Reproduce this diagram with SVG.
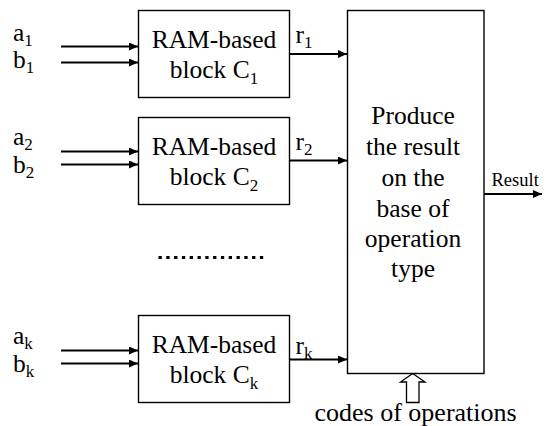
<svg xmlns="http://www.w3.org/2000/svg" width="549" height="426" viewBox="0 0 549 426">
  <style>
    text { font-family: "Liberation Serif", "Times New Roman", serif; fill: #000; }
    .lbl { font-size: 25.5px; }
    .mid { text-anchor: middle; }
    .sub { font-size: 17px; }
    .small { font-size: 18.5px; }
    .box { fill: #fff; stroke: #000; stroke-width: 1.4; }
    .wire { fill: none; stroke: #000; stroke-width: 2.2; marker-end: url(#head); }
  </style>
  <defs>
    <marker id="head" markerUnits="userSpaceOnUse" markerWidth="10" markerHeight="8" refX="9" refY="4" orient="auto">
      <path d="M0,0 L9,4 L0,8 Z" fill="#000"/>
    </marker>
  </defs>

  <rect width="549" height="426" fill="#fff"/>

  <!-- connectors -->
  <g id="connectors">
    <line class="wire" x1="61" y1="46.5" x2="138" y2="46.5"/>
    <line class="wire" x1="61" y1="62.5" x2="138" y2="62.5"/>
    <line class="wire" x1="61" y1="151.5" x2="138" y2="151.5"/>
    <line class="wire" x1="61" y1="164.5" x2="138" y2="164.5"/>
    <line class="wire" x1="61" y1="350.5" x2="138" y2="350.5"/>
    <line class="wire" x1="61" y1="363.5" x2="138" y2="363.5"/>
    <line class="wire" x1="289" y1="54" x2="347" y2="54"/>
    <line class="wire" x1="289" y1="160.5" x2="347" y2="160.5"/>
    <line class="wire" x1="289" y1="359.5" x2="347" y2="359.5"/>
    <line class="wire" x1="484" y1="194" x2="542" y2="194"/>
    <!-- hollow arrow for operation codes -->
    <path d="M412.7,373.5 L425,382 L419,382 L419,402.5 L406.5,402.5 L406.5,382 L400.5,382 Z" fill="#fff" stroke="#000" stroke-width="1.3"/>
    <!-- ellipsis between block rows -->
    <line x1="158.5" y1="257.5" x2="266" y2="257.5" stroke="#000" stroke-width="3" stroke-dasharray="3.3 4.5"/>
  </g>

  <!-- input labels -->
  <g id="inputs">
    <text class="lbl" x="13" y="40.5">a<tspan class="sub" dy="5">1</tspan></text>
    <text class="lbl" x="13" y="68">b<tspan class="sub" dy="5">1</tspan></text>
    <text class="lbl" x="13" y="145">a<tspan class="sub" dy="5">2</tspan></text>
    <text class="lbl" x="13" y="172.5">b<tspan class="sub" dy="5">2</tspan></text>
    <text class="lbl" x="13" y="344">a<tspan class="sub" dy="5">k</tspan></text>
    <text class="lbl" x="13" y="371.5">b<tspan class="sub" dy="5">k</tspan></text>
  </g>

  <g id="block1">
    <rect class="box" x="138.5" y="10.5" width="151" height="87"/>
    <text class="lbl mid" x="214" y="48">RAM-based</text>
    <text class="lbl mid" x="214" y="77.5">block C<tspan class="sub" dy="6">1</tspan></text>
  </g>

  <g id="block2">
    <rect class="box" x="138.5" y="117.5" width="151" height="87"/>
    <text class="lbl mid" x="214" y="155">RAM-based</text>
    <text class="lbl mid" x="214" y="184.5">block C<tspan class="sub" dy="6">2</tspan></text>
  </g>

  <g id="blockk">
    <rect class="box" x="138.5" y="315.5" width="151" height="87"/>
    <text class="lbl mid" x="214" y="353">RAM-based</text>
    <text class="lbl mid" x="214" y="382.5">block C<tspan class="sub" dy="6">k</tspan></text>
  </g>

  <!-- result labels on the block outputs -->
  <g id="outputs">
    <text class="lbl" x="295.5" y="43">r<tspan class="sub" dy="5">1</tspan></text>
    <text class="lbl" x="295.5" y="149.5">r<tspan class="sub" dy="5">2</tspan></text>
    <text class="lbl" x="295.5" y="353.5">r<tspan class="sub" dy="5">k</tspan></text>
  </g>

  <g id="combiner">
    <rect class="box" x="347.5" y="10.5" width="136.5" height="363"/>
    <text class="lbl mid" x="413" y="124">Produce</text>
    <text class="lbl mid" x="413" y="155">the result</text>
    <text class="lbl mid" x="413" y="185.5">on the</text>
    <text class="lbl mid" x="413" y="216.5">base of</text>
    <text class="lbl mid" x="413" y="247">operation</text>
    <text class="lbl mid" x="413" y="277">type</text>
  </g>

  <g id="result">
    <text class="small" x="491.5" y="186">Result</text>
  </g>

  <g id="opcodes">
    <text x="314.5" y="421" font-size="26">codes of operations</text>
  </g>
</svg>
